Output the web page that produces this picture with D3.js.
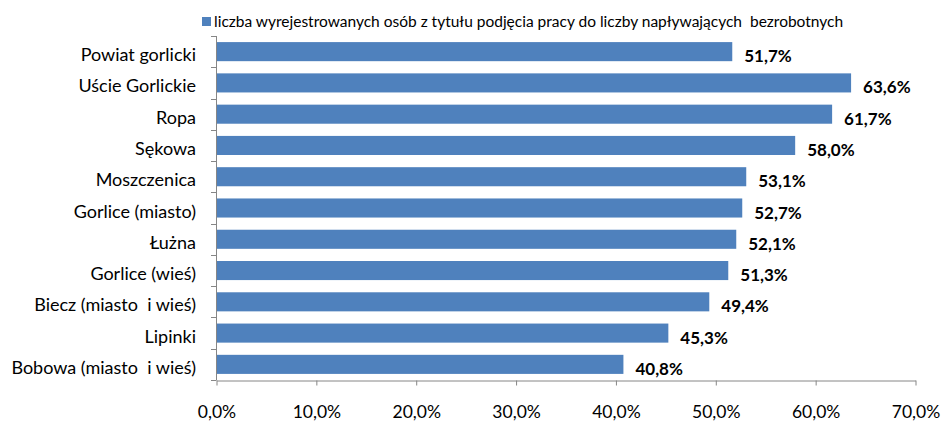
<!DOCTYPE html>
<html>
<head>
<meta charset="utf-8">
<script src="https://cdn.jsdelivr.net/npm/d3@7"></script>
<style>
  body { margin: 0; background: #fff; }
  svg { display: block; font-family: Lato, "Open Sans", sans-serif; }
  svg text { white-space: pre; }
  .axis path, .axis line { stroke: #868686; }
</style>
</head>
<body>
<div id="chart"></div>
<script>
// chart data
const categories = ['Powiat gorlicki', 'Uście Gorlickie', 'Ropa', 'Sękowa', 'Moszczenica',
  'Gorlice (miasto)', 'Łużna', 'Gorlice (wieś)', 'Biecz (miasto  i wieś)', 'Lipinki', 'Bobowa (miasto  i wieś)'];
const values = [51.7, 63.6, 61.7, 58.0, 53.1, 52.7, 52.1, 51.3, 49.4, 45.3, 40.8];
const xTicks = [0, 10, 20, 30, 40, 50, 60, 70];
const seriesName = 'liczba wyrejestrowanych osób z tytułu podjęcia pracy do liczby napływających  bezrobotnych';

const totalWidth = 943, totalHeight = 421;
const margins = {top: 36, bottom: 41, left: 216, right: 28};
const width = totalWidth - margins.left - margins.right;
const height = totalHeight - margins.top - margins.bottom;
const barColor = '#4F81BD';

const fmt = v => v.toFixed(1).replace('.', ',') + '%';

const svg = d3.select('#chart').append('svg')
  .attr('width', totalWidth)
  .attr('height', totalHeight);

const x = d3.scaleLinear().domain([0, 70]).range([0, width]);
const y = d3.scaleBand().domain(categories).range([0, height]).paddingInner(0.39).paddingOuter(0.195);

const plot = svg.append('g')
  .attr('transform', 'translate(' + [margins.left, margins.top] + ')');

// bars
plot.selectAll('rect.bar')
  .data(values)
  .enter()
  .append('rect')
  .attr('class', 'bar')
  .attr('x', 1)
  .attr('y', (d, i) => y(categories[i]))
  .attr('width', d => x(d) - 1)
  .attr('height', y.bandwidth())
  .style('fill', barColor);

// value labels
plot.selectAll('text.value')
  .data(values)
  .enter()
  .append('text')
  .attr('class', 'value')
  .attr('x', d => x(d) + 12)
  .attr('y', (d, i) => y(categories[i]) + y.bandwidth() / 2 + 10.5)
  .style('font-size', '17px')
  .style('font-weight', 'bold')
  .style('fill', '#000')
  .text(d => fmt(d));

// y axis: line + ticks at category boundaries
const yAxis = plot.append('g').attr('class', 'axis');
yAxis.append('line')
  .attr('x1', 0.5).attr('x2', 0.5)
  .attr('y1', 0).attr('y2', height);
d3.range(categories.length + 1).forEach(i => {
  const yy = Math.round(i * height / categories.length) + 0.5;
  yAxis.append('line')
    .attr('x1', -5).attr('x2', 0.5)
    .attr('y1', yy).attr('y2', yy);
});
plot.selectAll('text.cat')
  .data(categories)
  .enter()
  .append('text')
  .attr('class', 'cat')
  .attr('x', -20)
  .attr('y', d => y(d) + y.bandwidth() / 2 + 9.5)
  .attr('text-anchor', 'end')
  .style('font-size', '18px')
  .style('fill', '#000')
  .text(d => d);

// x axis
const xAxis = d3.axisBottom(x).tickValues(xTicks).tickSize(5).tickSizeOuter(0).tickPadding(20)
  .tickFormat(d => fmt(d));
plot.append('g')
  .attr('class', 'axis')
  .attr('transform', 'translate(' + [0.5, height + 0.5] + ')')
  .call(xAxis)
  .call(g => g.selectAll('text').style('font-size', '17.5px').style('fill', '#000').style('font-family', 'Lato, "Open Sans", sans-serif'));

// legend
const legend = svg.append('g').attr('transform', 'translate(' + [202, 17] + ')');
legend.append('rect')
  .attr('width', 9).attr('height', 9)
  .style('fill', barColor);
legend.append('text')
  .attr('x', 12).attr('y', 9.5)
  .style('font-size', '15.5px')
  .style('fill', '#000')
  .text(seriesName);
</script>
</body>
</html>
